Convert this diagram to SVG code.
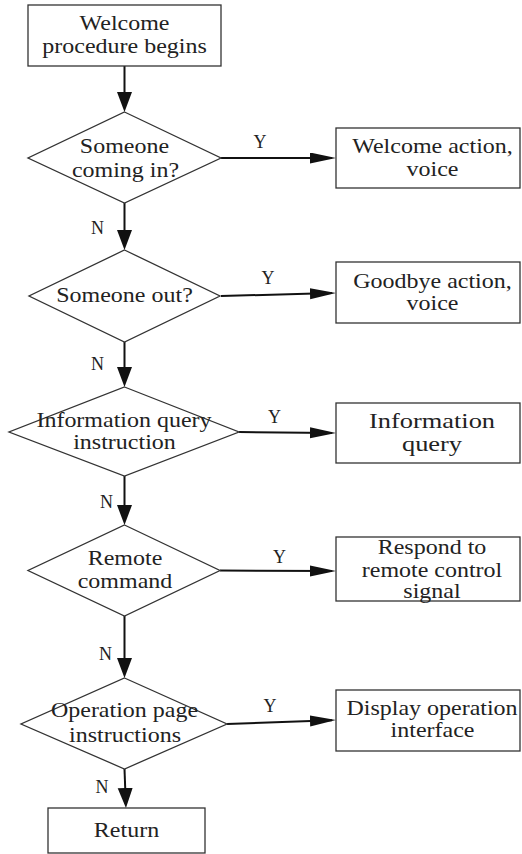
<svg xmlns="http://www.w3.org/2000/svg" width="522" height="854" viewBox="0 0 522 854">
<defs>
<marker id="av" markerUnits="userSpaceOnUse" markerWidth="22" markerHeight="16" refX="16" refY="7.5" orient="auto"><path d="M0,0 L20,7.5 L0,15 z" fill="#111"/></marker>
<marker id="ah" markerUnits="userSpaceOnUse" markerWidth="28" markerHeight="12" refX="22" refY="5.5" orient="auto"><path d="M0,0 L26,5.5 L0,11 z" fill="#111"/></marker>
</defs>
<rect width="522" height="854" fill="#fff"/>
<g id="connectors" fill="none" stroke="#111" stroke-width="2">
<line x1="124.5" y1="66" x2="124.5" y2="108" marker-end="url(#av)"/>
<line x1="124.5" y1="203" x2="124.5" y2="246" marker-end="url(#av)"/>
<line x1="124.5" y1="342" x2="124.5" y2="383" marker-end="url(#av)"/>
<line x1="124.5" y1="476" x2="124.5" y2="521" marker-end="url(#av)"/>
<line x1="124.5" y1="616" x2="124.5" y2="674" marker-end="url(#av)"/>
<line x1="124.5" y1="769" x2="125.8" y2="804" marker-end="url(#av)"/>
<line x1="221" y1="158" x2="332" y2="158" marker-end="url(#ah)"/>
<line x1="221" y1="296" x2="332" y2="293.1" marker-end="url(#ah)"/>
<line x1="239" y1="432" x2="332" y2="433" marker-end="url(#ah)"/>
<line x1="220" y1="570.5" x2="332" y2="571" marker-end="url(#ah)"/>
<line x1="227" y1="724" x2="332" y2="720.2" marker-end="url(#ah)"/>
</g>
<g id="labels" fill="#222" stroke="none">
<text font-family="Liberation Serif" font-size="18" text-anchor="middle" x="260" y="148">Y</text>
<text font-family="Liberation Serif" font-size="18" text-anchor="middle" x="268" y="284">Y</text>
<text font-family="Liberation Serif" font-size="18" text-anchor="middle" x="274.5" y="423">Y</text>
<text font-family="Liberation Serif" font-size="18" text-anchor="middle" x="279.5" y="563">Y</text>
<text font-family="Liberation Serif" font-size="18" text-anchor="middle" x="270" y="712">Y</text>
<text font-family="Liberation Serif" font-size="18" text-anchor="middle" x="97.5" y="234">N</text>
<text font-family="Liberation Serif" font-size="18" text-anchor="middle" x="97.5" y="370">N</text>
<text font-family="Liberation Serif" font-size="18" text-anchor="middle" x="106.5" y="508">N</text>
<text font-family="Liberation Serif" font-size="18" text-anchor="middle" x="105.5" y="660">N</text>
<text font-family="Liberation Serif" font-size="18" text-anchor="middle" x="102" y="793">N</text>
</g>
<g id="start">
<rect x="28" y="5" width="193" height="61" fill="#fff" stroke="#333" stroke-width="1.3"/>
<text fill="#222" font-family="Liberation Serif" font-size="18" text-anchor="middle" x="0" y="0" transform="matrix(1.333 0 0 1.111 124.5 30)">Welcome</text>
<text fill="#222" font-family="Liberation Serif" font-size="18" text-anchor="middle" x="0" y="0" transform="matrix(1.333 0 0 1.111 124.5 53)">procedure begins</text>
</g>
<g id="d1">
<polygon points="124.5,112 221,158 124.5,203 28,158" fill="#fff" stroke="#333" stroke-width="1.3"/>
<text fill="#222" font-family="Liberation Serif" font-size="18" text-anchor="middle" x="0" y="0" transform="matrix(1.333 0 0 1.111 124.5 153)">Someone</text>
<text fill="#222" font-family="Liberation Serif" font-size="18" text-anchor="middle" x="0" y="0" transform="matrix(1.333 0 0 1.111 125.5 177)">coming in?</text>
</g>
<g id="d2">
<polygon points="124.5,250 220,296 124.5,342 29,296" fill="#fff" stroke="#333" stroke-width="1.3"/>
<text fill="#222" font-family="Liberation Serif" font-size="18" text-anchor="middle" x="0" y="0" transform="matrix(1.333 0 0 1.111 124.5 302)">Someone out?</text>
</g>
<g id="d3">
<polygon points="124.5,387 239,432 124.5,476 9,432" fill="#fff" stroke="#333" stroke-width="1.3"/>
<text fill="#222" font-family="Liberation Serif" font-size="18" text-anchor="middle" x="0" y="0" transform="matrix(1.333 0 0 1.111 124 427)">Information query</text>
<text fill="#222" font-family="Liberation Serif" font-size="18" text-anchor="middle" x="0" y="0" transform="matrix(1.333 0 0 1.111 124.5 449)">instruction</text>
</g>
<g id="d4">
<polygon points="124.5,525 220,570.5 124.5,616 28,570.5" fill="#fff" stroke="#333" stroke-width="1.3"/>
<text fill="#222" font-family="Liberation Serif" font-size="18" text-anchor="middle" x="0" y="0" transform="matrix(1.333 0 0 1.111 125 565)">Remote</text>
<text fill="#222" font-family="Liberation Serif" font-size="18" text-anchor="middle" x="0" y="0" transform="matrix(1.333 0 0 1.111 125 588)">command</text>
</g>
<g id="d5">
<polygon points="124.5,678 227,724 124.5,769 21,724" fill="#fff" stroke="#333" stroke-width="1.3"/>
<text fill="#222" font-family="Liberation Serif" font-size="18" text-anchor="middle" x="0" y="0" transform="matrix(1.333 0 0 1.111 124.5 717)">Operation page</text>
<text fill="#222" font-family="Liberation Serif" font-size="18" text-anchor="middle" x="0" y="0" transform="matrix(1.333 0 0 1.111 125 742)">instructions</text>
</g>
<g id="ret">
<rect x="48" y="808" width="157" height="45" fill="#fff" stroke="#333" stroke-width="1.3"/>
<text fill="#222" font-family="Liberation Serif" font-size="18" text-anchor="middle" x="0" y="0" transform="matrix(1.333 0 0 1.111 126.5 837)">Return</text>
</g>
<g id="b1">
<rect x="336" y="128" width="184" height="60" fill="#fff" stroke="#333" stroke-width="1.3"/>
<text fill="#222" font-family="Liberation Serif" font-size="18" text-anchor="middle" x="0" y="0" transform="matrix(1.333 0 0 1.111 432.5 153)">Welcome action,</text>
<text fill="#222" font-family="Liberation Serif" font-size="18" text-anchor="middle" x="0" y="0" transform="matrix(1.333 0 0 1.111 432.5 176)">voice</text>
</g>
<g id="b2">
<rect x="336" y="262" width="184" height="61" fill="#fff" stroke="#333" stroke-width="1.3"/>
<text fill="#222" font-family="Liberation Serif" font-size="18" text-anchor="middle" x="0" y="0" transform="matrix(1.333 0 0 1.111 432.5 288)">Goodbye action,</text>
<text fill="#222" font-family="Liberation Serif" font-size="18" text-anchor="middle" x="0" y="0" transform="matrix(1.333 0 0 1.111 432.5 310)">voice</text>
</g>
<g id="b3">
<rect x="336" y="403" width="184" height="60" fill="#fff" stroke="#333" stroke-width="1.3"/>
<text fill="#222" font-family="Liberation Serif" font-size="18" text-anchor="middle" x="0" y="0" transform="matrix(1.467 0 0 1.222 432 428)">Information</text>
<text fill="#222" font-family="Liberation Serif" font-size="18" text-anchor="middle" x="0" y="0" transform="matrix(1.467 0 0 1.222 432 451)">query</text>
</g>
<g id="b4">
<rect x="336" y="537" width="184" height="64" fill="#fff" stroke="#333" stroke-width="1.3"/>
<text fill="#222" font-family="Liberation Serif" font-size="18" text-anchor="middle" x="0" y="0" transform="matrix(1.333 0 0 1.111 432 554)">Respond to</text>
<text fill="#222" font-family="Liberation Serif" font-size="18" text-anchor="middle" x="0" y="0" transform="matrix(1.333 0 0 1.111 432 577)">remote control</text>
<text fill="#222" font-family="Liberation Serif" font-size="18" text-anchor="middle" x="0" y="0" transform="matrix(1.333 0 0 1.111 432 598)">signal</text>
</g>
<g id="b5">
<rect x="336" y="690" width="184" height="61" fill="#fff" stroke="#333" stroke-width="1.3"/>
<text fill="#222" font-family="Liberation Serif" font-size="18" text-anchor="middle" x="0" y="0" transform="matrix(1.333 0 0 1.111 432 715)">Display operation</text>
<text fill="#222" font-family="Liberation Serif" font-size="18" text-anchor="middle" x="0" y="0" transform="matrix(1.333 0 0 1.111 432.5 737)">interface</text>
</g>
</svg>
